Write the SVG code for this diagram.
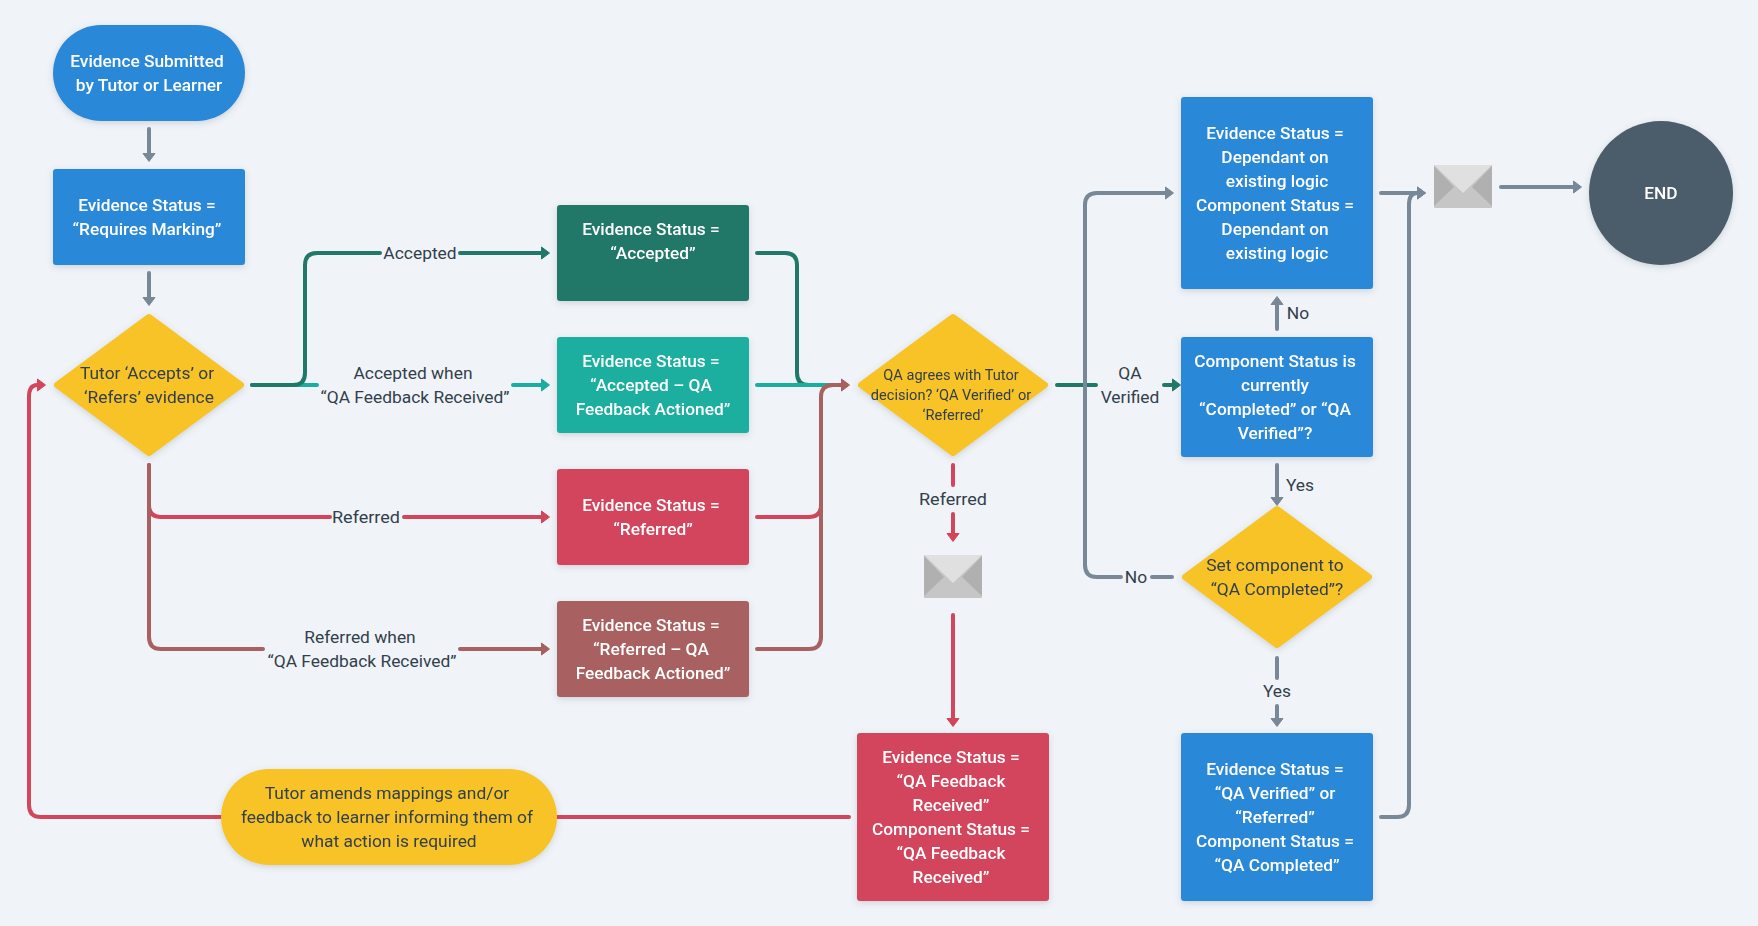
<svg xmlns="http://www.w3.org/2000/svg" width="1758" height="926" viewBox="0 0 1758 926">
<style>
text{font-family:"Roboto","Liberation Sans",sans-serif;font-size:17.3px;text-anchor:middle;dominant-baseline:central}
.w{fill:#fff;font-weight:500}
.d{fill:#323f4b;font-size:17.4px}
.d.s{font-size:14.6px}
.c{fill:none;stroke-width:4;stroke-linecap:round;stroke-linejoin:round}
.g{stroke:#788896}.dg{stroke:#207868}.t{stroke:#1aae9f}.r{stroke:#d3455b}.b{stroke:#a86060}
.n{filter:url(#sh)}
.blue{fill:#2c88d9}.dgf{fill:#207868}.tf{fill:#1aae9f}.rf{fill:#d3455b}.bf{fill:#a86060}
.y{fill:#f7c325;stroke:#f7c325;stroke-width:6;stroke-linejoin:round}
.e1{fill:#c6c6c6}.e2{fill:#b0b0b0}.e3{fill:#e0e0e0}
</style>
<defs>
<filter id="sh" x="-10%" y="-10%" width="120%" height="125%"><feDropShadow dx="0" dy="2" stdDeviation="3" flood-color="#4b5c6b" flood-opacity=".22"/></filter>
<marker id="ag" markerUnits="userSpaceOnUse" viewBox="0 -8 10 16" refX="0" refY="0" markerWidth="10" markerHeight="16" orient="auto"><path d="M.5-6L8.5 0L.5 6Z" fill="#788896" stroke="#788896" stroke-linejoin="round"/></marker>
<marker id="adg" markerUnits="userSpaceOnUse" viewBox="0 -8 10 16" refX="0" refY="0" markerWidth="10" markerHeight="16" orient="auto"><path d="M.5-6L8.5 0L.5 6Z" fill="#207868" stroke="#207868" stroke-linejoin="round"/></marker>
<marker id="at" markerUnits="userSpaceOnUse" viewBox="0 -8 10 16" refX="0" refY="0" markerWidth="10" markerHeight="16" orient="auto"><path d="M.5-6L8.5 0L.5 6Z" fill="#1aae9f" stroke="#1aae9f" stroke-linejoin="round"/></marker>
<marker id="ar" markerUnits="userSpaceOnUse" viewBox="0 -8 10 16" refX="0" refY="0" markerWidth="10" markerHeight="16" orient="auto"><path d="M.5-6L8.5 0L.5 6Z" fill="#d3455b" stroke="#d3455b" stroke-linejoin="round"/></marker>
<marker id="ab" markerUnits="userSpaceOnUse" viewBox="0 -8 10 16" refX="0" refY="0" markerWidth="10" markerHeight="16" orient="auto"><path d="M.5-6L8.5 0L.5 6Z" fill="#a86060" stroke="#a86060" stroke-linejoin="round"/></marker>
<g id="env">
<rect class="e1" width="58" height="43" rx="1"/>
<path class="e2" d="M0 1L20 22L0 41ZM58 1L38 22L58 41Z"/>
<path class="e3" d="M1 0H57V1L29 28L1 1Z"/>
</g>
</defs>
<rect width="1758" height="926" fill="#f0f4f8"/>

<g id="connectors">
<path class="c g" d="M149 129V153" marker-end="url(#ag)"/>
<path class="c g" d="M149 273V297" marker-end="url(#ag)"/>
<path class="c t" d="M252 385H317"/>
<path class="c t" d="M513 385H541" marker-end="url(#at)"/>
<path class="c dg" d="M252 385H293Q305 385 305 373V265Q305 253 317 253H380"/>
<path class="c dg" d="M460 253H541" marker-end="url(#adg)"/>
<path class="c r" d="M149 465V505Q149 517 161 517H330"/>
<path class="c r" d="M404 517H541" marker-end="url(#ar)"/>
<path class="c b" d="M149 465V637Q149 649 161 649H263"/>
<path class="c b" d="M460 649H541" marker-end="url(#ab)"/>
<path class="c dg" d="M757 253H785Q797 253 797 265V373Q797 385 809 385H830"/>
<path class="c t" d="M757 385H835"/>
<path class="c r" d="M757 517H809Q821 517 821 505V480"/>
<path class="c b" d="M757 649H809Q821 649 821 637V397Q821 385 833 385H841" marker-end="url(#ab)"/>
<path class="c r" d="M953 465V485"/>
<path class="c r" d="M953 514V533" marker-end="url(#ar)"/>
<path class="c r" d="M953 615V718" marker-end="url(#ar)"/>
<path class="c r" d="M849 817H556"/>
<path class="c r" d="M221 817H41Q29 817 29 805V397Q29 385 37 385" marker-end="url(#ar)"/>
<path class="c dg" d="M1057 385H1096"/>
<path class="c dg" d="M1164 385H1172" marker-end="url(#adg)"/>
<path class="c g" d="M1121 577H1097Q1085 577 1085 565V205Q1085 193 1097 193H1165" marker-end="url(#ag)"/>
<path class="c g" d="M1152 577H1172"/>
<path class="c g" d="M1277 329V305" marker-end="url(#ag)"/>
<path class="c g" d="M1277 465V497" marker-end="url(#ag)"/>
<path class="c g" d="M1277 658V678"/>
<path class="c g" d="M1277 706V718" marker-end="url(#ag)"/>
<path class="c g" d="M1381 193H1417" marker-end="url(#ag)"/>
<path class="c g" d="M1381 817H1397Q1409 817 1409 805V205Q1409 193 1417 193" marker-end="url(#ag)"/>
<path class="c g" d="M1501 187H1573" marker-end="url(#ag)"/>
<g id="connector-labels">
<text class="d" x="420" y="253">Accepted</text>
<text class="d"><tspan x="413" y="373">Accepted when</tspan><tspan x="415" y="397">“QA Feedback Received”</tspan></text>
<text class="d" x="366" y="517" textLength="68" lengthAdjust="spacingAndGlyphs">Referred</text>
<text class="d"><tspan x="360" y="637">Referred when</tspan><tspan x="362" y="661">“QA Feedback Received”</tspan></text>
<text class="d" x="953" y="499" textLength="68" lengthAdjust="spacingAndGlyphs">Referred</text>
<text class="d"><tspan x="1130" y="373">QA</tspan><tspan x="1130" y="397">Verified</tspan></text>
<text class="d" x="1136" y="577">No</text>
<text class="d" x="1298" y="313">No</text>
<text class="d" x="1300" y="485">Yes</text>
<text class="d" x="1277" y="691">Yes</text>
</g>
</g>

<g id="start" class="n"><rect class="blue" x="53" y="25" width="192" height="96" rx="48"/><text class="w"><tspan x="147" y="61">Evidence Submitted</tspan><tspan x="149" y="85">by Tutor or Learner</tspan></text></g>
<g id="requires-marking" class="n"><rect class="blue" x="53" y="169" width="192" height="96" rx="3"/><text class="w"><tspan x="147" y="205">Evidence Status =</tspan><tspan x="147" y="229">“Requires Marking”</tspan></text></g>
<g id="tutor-decision" class="n"><path class="y" d="M149 317L241 385L149 453L57 385Z"/><text class="d"><tspan x="147" y="373">Tutor ‘Accepts’ or</tspan><tspan x="149" y="397">‘Refers’ evidence</tspan></text></g>
<g id="accepted" class="n"><rect class="dgf" x="557" y="205" width="192" height="96" rx="3"/><text class="w"><tspan x="651" y="229">Evidence Status =</tspan><tspan x="653" y="253">“Accepted”</tspan></text></g>
<g id="accepted-qa" class="n"><rect class="tf" x="557" y="337" width="192" height="96" rx="3"/><text class="w"><tspan x="651" y="361">Evidence Status =</tspan><tspan x="651" y="385">“Accepted – QA</tspan><tspan x="653" y="409">Feedback Actioned”</tspan></text></g>
<g id="referred" class="n"><rect class="rf" x="557" y="469" width="192" height="96" rx="3"/><text class="w"><tspan x="651" y="505">Evidence Status =</tspan><tspan x="653" y="529">“Referred”</tspan></text></g>
<g id="referred-qa" class="n"><rect class="bf" x="557" y="601" width="192" height="96" rx="3"/><text class="w"><tspan x="651" y="625">Evidence Status =</tspan><tspan x="651" y="649">“Referred – QA</tspan><tspan x="653" y="673">Feedback Actioned”</tspan></text></g>
<g id="qa-decision" class="n"><path class="y" d="M953 317L1045 385L953 453L861 385Z"/><text class="d s"><tspan x="951" y="375">QA agrees with Tutor</tspan><tspan x="951" y="395">decision? ‘QA Verified’ or</tspan><tspan x="953" y="415">‘Referred’</tspan></text></g>
<g id="mail-referred"><use href="#env" x="924" y="555"/></g>
<g id="qa-feedback" class="n"><rect class="rf" x="857" y="733" width="192" height="168" rx="3"/><text class="w"><tspan x="951" y="757">Evidence Status =</tspan><tspan x="951" y="781">“QA Feedback</tspan><tspan x="951" y="805">Received”</tspan><tspan x="951" y="829">Component Status =</tspan><tspan x="951" y="853">“QA Feedback</tspan><tspan x="951" y="877">Received”</tspan></text></g>
<g id="tutor-amends" class="n"><rect fill="#f7c325" x="221" y="769" width="336" height="96" rx="48"/><text class="d"><tspan x="387" y="793">Tutor amends mappings and/or</tspan><tspan x="387" y="817">feedback to learner informing them of</tspan><tspan x="389" y="841">what action is required</tspan></text></g>
<g id="status-logic" class="n"><rect class="blue" x="1181" y="97" width="192" height="192" rx="3"/><text class="w"><tspan x="1275" y="133">Evidence Status =</tspan><tspan x="1275" y="157">Dependant on</tspan><tspan x="1277" y="181">existing logic</tspan><tspan x="1275" y="205">Component Status =</tspan><tspan x="1275" y="229">Dependant on</tspan><tspan x="1277" y="253">existing logic</tspan></text></g>
<g id="component-check" class="n"><rect class="blue" x="1181" y="337" width="192" height="120" rx="3"/><text class="w"><tspan x="1275" y="361">Component Status is</tspan><tspan x="1275" y="385">currently</tspan><tspan x="1275" y="409">“Completed” or “QA</tspan><tspan x="1275" y="433">Verified”?</tspan></text></g>
<g id="set-component" class="n"><path class="y" d="M1277 509L1369 577L1277 645L1185 577Z"/><text class="d"><tspan x="1275" y="565">Set component to</tspan><tspan x="1277" y="589">“QA Completed”?</tspan></text></g>
<g id="qa-completed" class="n"><rect class="blue" x="1181" y="733" width="192" height="168" rx="3"/><text class="w"><tspan x="1275" y="769">Evidence Status =</tspan><tspan x="1275" y="793">“QA Verified” or</tspan><tspan x="1275" y="817">“Referred”</tspan><tspan x="1275" y="841">Component Status =</tspan><tspan x="1277" y="865">“QA Completed”</tspan></text></g>
<g id="mail-end"><use href="#env" x="1434" y="165"/></g>
<g id="end" class="n"><circle cx="1661" cy="193" r="72" fill="#4b5c6b"/><text class="w" x="1661" y="193">END</text></g>
</svg>
